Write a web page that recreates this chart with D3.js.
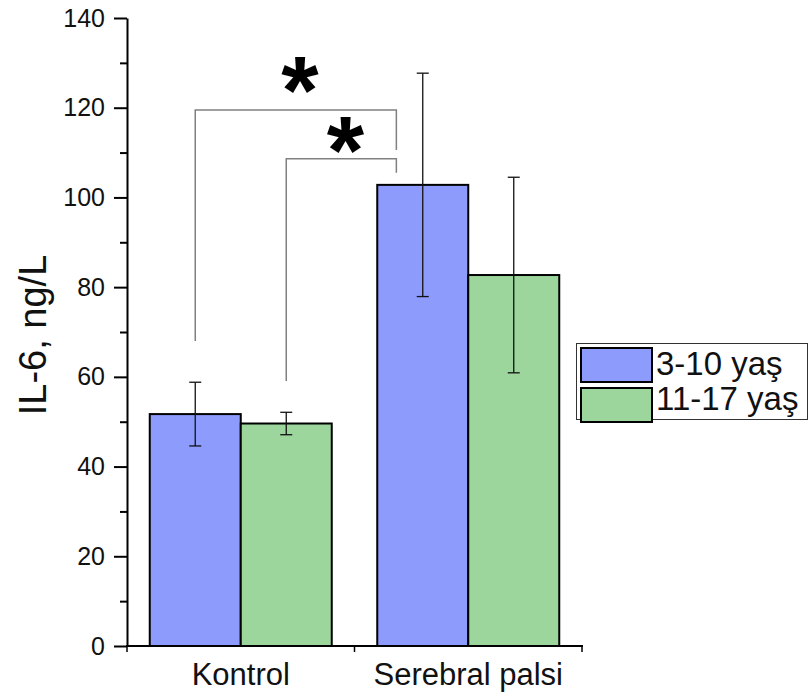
<!DOCTYPE html>
<html>
<head>
<meta charset="utf-8">
<script src="https://cdn.jsdelivr.net/npm/d3@7"></script>
<style>
  html, body { margin: 0; padding: 0; background: #fff; }
  svg { display: block; font-family: "Liberation Sans", Arial, sans-serif; }
</style>
</head>
<body>
<svg id="chart" width="809" height="697"></svg>
<script>
// IL-6 levels by group and age band (mean ± SD)
const categories = ["Kontrol", "Serebral palsi"];
const seriesNames = ["3-10 yaş", "11-17 yaş"];
const means3to10 = [51.7, 102.8];
const sd3to10 = [7.1, 24.9];
const means11to17 = [49.6, 82.7];
const sd11to17 = [2.5, 21.8];
const majorTicks = [0, 20, 40, 60, 80, 100, 120, 140];
const minorTicks = [10, 30, 50, 70, 90, 110, 130];
const yLabel = "IL-6, ng/L";

// significance brackets: left leg on a Kontrol bar, right leg on the Serebral palsi 3-10 bar
const brackets = [
  { fromCat: "Kontrol", fromSeries: "3-10 yaş", toCat: "Serebral palsi", toSeries: "3-10 yaş",
    yLeft: 68.0, yTop: 119.5, yRight: 110.6, yStar: 127.1, mark: "*" },
  { fromCat: "Kontrol", fromSeries: "11-17 yaş", toCat: "Serebral palsi", toSeries: "3-10 yaş",
    yLeft: 59.1, yTop: 108.6, yRight: 105.5, yStar: 113.7, mark: "*" }
];

const colors = { "3-10 yaş": "#8d9bfd", "11-17 yaş": "#9dd69d" };

const rows = categories.map((c, i) => ({
  category: c,
  values: [
    { series: seriesNames[0], mean: means3to10[i], sd: sd3to10[i] },
    { series: seriesNames[1], mean: means11to17[i], sd: sd11to17[i] }
  ]
}));

const svg = d3.select("#chart");
const plot = { left: 127, right: 582, top: 18, bottom: 646 };

const y = d3.scaleLinear().domain([0, 140]).range([plot.bottom, plot.top]);
const x0 = d3.scaleBand().domain(categories).range([plot.left, plot.right]).padding(0);
const x1 = d3.scaleBand().domain(seriesNames).range([0, x0.bandwidth()])
  .paddingInner(0).paddingOuter(0.25);

// bars
const groups = svg.append("g").selectAll("g").data(rows).join("g")
  .attr("transform", d => `translate(${x0(d.category)},0)`);

groups.selectAll("rect").data(d => d.values).join("rect")
  .attr("x", d => x1(d.series))
  .attr("y", d => y(d.mean))
  .attr("width", x1.bandwidth())
  .attr("height", d => y(0) - y(d.mean))
  .attr("fill", d => colors[d.series])
  .attr("stroke", "#000")
  .attr("stroke-width", 2);

// error bars
const capW = 12;
const eb = groups.selectAll("g.err").data(d => d.values).join("g").attr("class", "err")
  .attr("stroke", "#111").attr("stroke-width", 1.3);
eb.append("line")
  .attr("x1", d => x1(d.series) + x1.bandwidth() / 2)
  .attr("x2", d => x1(d.series) + x1.bandwidth() / 2)
  .attr("y1", d => y(d.mean - d.sd))
  .attr("y2", d => y(d.mean + d.sd));
eb.selectAll("line.cap").data(d => [
    { s: d.series, v: d.mean + d.sd }, { s: d.series, v: d.mean - d.sd }
  ]).join("line").attr("class", "cap")
  .attr("x1", d => x1(d.s) + x1.bandwidth() / 2 - capW / 2)
  .attr("x2", d => x1(d.s) + x1.bandwidth() / 2 + capW / 2)
  .attr("y1", d => y(d.v))
  .attr("y2", d => y(d.v));

// y axis
const yAxis = svg.append("g").attr("transform", `translate(${plot.left},0)`)
  .call(d3.axisLeft(y).tickValues(majorTicks).tickSize(13).tickSizeOuter(0).tickPadding(9));
yAxis.select(".domain").attr("stroke", "#000").attr("stroke-width", 2);
yAxis.selectAll(".tick line").attr("stroke", "#000").attr("stroke-width", 2);
yAxis.selectAll(".tick text").attr("font-size", 25).attr("fill", "#111")
  .attr("font-family", "'Liberation Sans', Arial, sans-serif");

const yMinor = svg.append("g").attr("transform", `translate(${plot.left},0)`)
  .call(d3.axisLeft(y).tickValues(minorTicks).tickSize(7).tickSizeOuter(0).tickFormat(""));
yMinor.select(".domain").remove();
yMinor.selectAll(".tick line").attr("stroke", "#000").attr("stroke-width", 2);

// x axis: line with ticks at group boundaries
const xEdges = [plot.left].concat(categories.map(c => x0(c) + x0.bandwidth()));
svg.append("line")
  .attr("x1", plot.left - 1).attr("x2", plot.right + 1)
  .attr("y1", y(0)).attr("y2", y(0))
  .attr("stroke", "#000").attr("stroke-width", 2);
svg.append("g").selectAll("line").data(xEdges).join("line")
  .attr("x1", d => d).attr("x2", d => d)
  .attr("y1", y(0)).attr("y2", y(0) + 6)
  .attr("stroke", "#000").attr("stroke-width", 1.5);

svg.append("g").selectAll("text").data(categories).join("text")
  .attr("x", d => x0(d) + x0.bandwidth() / 2)
  .attr("y", 685)
  .attr("text-anchor", "middle")
  .attr("font-size", 31)
  .attr("fill", "#111")
  .text(d => d);

// y axis title
svg.append("text")
  .attr("transform", `translate(46,${(plot.top + plot.bottom) / 2 + 3}) rotate(-90)`)
  .attr("text-anchor", "middle")
  .attr("font-size", 38)
  .attr("fill", "#111")
  .text(yLabel);

// significance brackets
const barCenter = (cat, s) => x0(cat) + x1(s) + x1.bandwidth() / 2;
const barLeft = (cat, s) => x0(cat) + x1(s);
const bg = svg.append("g").attr("fill", "none").attr("stroke", "#808080").attr("stroke-width", 1.5);
brackets.forEach(b => {
  const xl = barCenter(b.fromCat, b.fromSeries);
  const xr = barLeft(b.toCat, b.toSeries) + x1.bandwidth() * 0.21;
  bg.append("path")
    .attr("d", d3.line()([[xl, y(b.yLeft)], [xl, y(b.yTop)], [xr, y(b.yTop)], [xr, y(b.yRight)]]));
  const fs = 96;
  svg.append("text")
    .attr("x", (xl + xr) / 2 + 4)
    .attr("y", y(b.yStar) + 0.49 * fs)
    .attr("text-anchor", "middle")
    .attr("font-size", fs)
    .attr("font-weight", "bold")
    .attr("fill", "#000")
    .text(b.mark);
});

// legend
const lg = svg.append("g");
lg.append("rect")
  .attr("x", 576.5).attr("y", 343.5).attr("width", 231).attr("height", 76)
  .attr("fill", "#fff").attr("stroke", "#333").attr("stroke-width", 1);
seriesNames.forEach((s, i) => {
  lg.append("rect")
    .attr("x", 581).attr("y", 348 + i * 40).attr("width", 71).attr("height", 34)
    .attr("fill", colors[s]).attr("stroke", "#000").attr("stroke-width", 2);
  lg.append("text")
    .attr("x", 656).attr("y", 375 + i * 35)
    .attr("font-size", 33).attr("fill", "#111")
    .text(s);
});
</script>
</body>
</html>
